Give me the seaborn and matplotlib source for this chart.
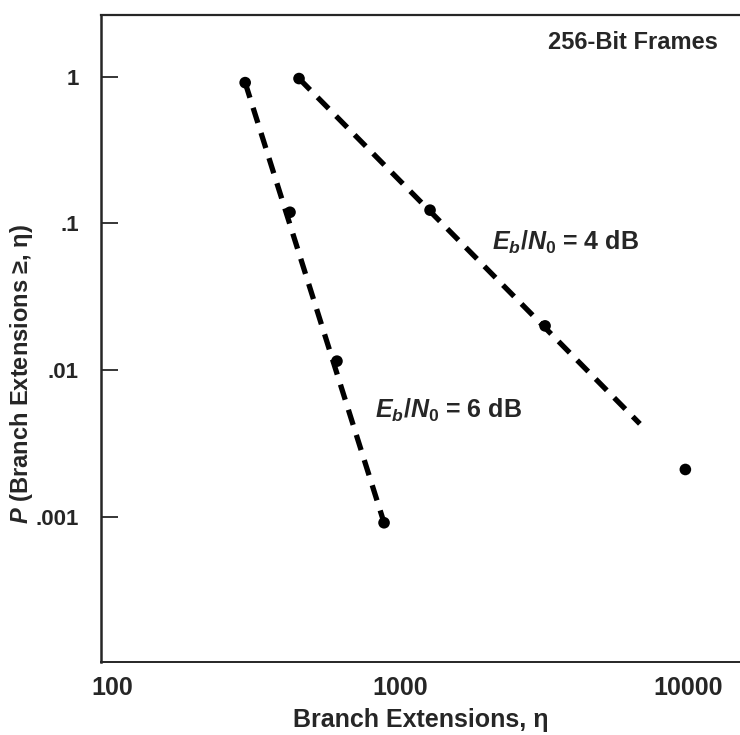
import numpy as np
import pandas as pd
import matplotlib
matplotlib.use("Agg")
import matplotlib.pyplot as plt
import seaborn as sns

# ---- data ----
eta_6db = [290, 415, 604, 880]
p_6db = [0.91, 0.119, 0.0115, 0.00091]
eta_4db = [446, 1271, 3187, 9780]
p_4db = [0.97, 0.123, 0.020, 0.0021]
fit_eta_6db = [290, 880]
fit_p_6db = [0.91, 0.00091]
fit_eta_4db = [446, 6800]
fit_p_4db = [0.97, 0.0043]
xticks = [100, 1000, 10000]
xtick_labels = ["100", "1000", "10000"]
yticks = [1, 0.1, 0.01, 0.001]
ytick_labels = ["1", ".1", ".01", ".001"]
label_4db = r"$E_b/N_0$ = 4 dB"
label_6db = r"$E_b/N_0$ = 6 dB"
title_text = "256-Bit Frames"
xlabel_text = "Branch Extensions, η"
ylabel_text = r"$P$ (Branch Extensions ≥, η)"

sns.set_style("ticks")
plt.rcParams["font.family"] = ["Liberation Sans", "DejaVu Sans"]
plt.rcParams["font.weight"] = "bold"
plt.rcParams["mathtext.fontset"] = "custom"
plt.rcParams["mathtext.rm"] = "Liberation Sans:bold"
plt.rcParams["mathtext.it"] = "Liberation Sans:italic:bold"
plt.rcParams["mathtext.bf"] = "Liberation Sans:bold"

pts = pd.DataFrame({
    "eta": eta_6db + eta_4db,
    "p": p_6db + p_4db,
    "snr": ["6 dB"] * len(eta_6db) + ["4 dB"] * len(eta_4db),
})
fits = pd.DataFrame({
    "eta": fit_eta_6db + fit_eta_4db,
    "p": fit_p_6db + fit_p_4db,
    "snr": ["6 dB"] * len(fit_eta_6db) + ["4 dB"] * len(fit_eta_4db),
})

fig = plt.figure(figsize=(7.4, 7.35), dpi=100)
L, T, B = 101 / 740, 15 / 735, 662 / 735
ax = fig.add_axes([L, 1 - B, 1 - L, B - T])
ax.set_xscale("log")
ax.set_yscale("log")

sns.lineplot(data=fits, x="eta", y="p", units="snr", estimator=None,
             color="black", linewidth=3.8, ax=ax, legend=False,
             dashes=False, sort=False)
for ln in ax.get_lines():
    ln.set_linestyle((0, (3.0, 2.0)))
    ln.set_dash_capstyle("butt")
sns.scatterplot(data=pts, x="eta", y="p", color="black", s=70,
                edgecolor="none", ax=ax, legend=False, zorder=5)

ax.set_xlim(10 ** 1.962, 10 ** 4.18)
ax.set_ylim(10 ** -3.99, 10 ** 0.42)
ax.set_xticks(xticks)
ax.set_xticklabels(xtick_labels)
ax.set_yticks(yticks)
ax.set_yticklabels(ytick_labels)
ax.minorticks_off()
ax.tick_params(axis="x", length=0, pad=10, labelsize=18)
ax.tick_params(axis="y", direction="in", length=12, width=1.3, pad=16,
               labelsize=16)
for lbl in ax.get_xticklabels() + ax.get_yticklabels():
    lbl.set_fontweight("bold")

ax.spines["right"].set_visible(False)
ax.spines["left"].set_linewidth(1.8)
ax.spines["top"].set_linewidth(1.6)
ax.spines["bottom"].set_linewidth(1.4)

ax.set_xlabel(xlabel_text, fontsize=18, fontweight="bold", labelpad=6)
ax.set_ylabel(ylabel_text, fontsize=17, fontweight="bold")
ax.yaxis.set_label_coords(-0.103, 0.445)

ax.text(0.612, 0.648, label_4db, transform=ax.transAxes, fontsize=18,
        fontweight="bold", ha="left", va="center")
ax.text(0.429, 0.389, label_6db, transform=ax.transAxes, fontsize=18,
        fontweight="bold", ha="left", va="center")
ax.text(0.966, 0.958, title_text, transform=ax.transAxes, fontsize=17,
        fontweight="bold", ha="right", va="center")

fig.savefig("out.png", dpi=100)
